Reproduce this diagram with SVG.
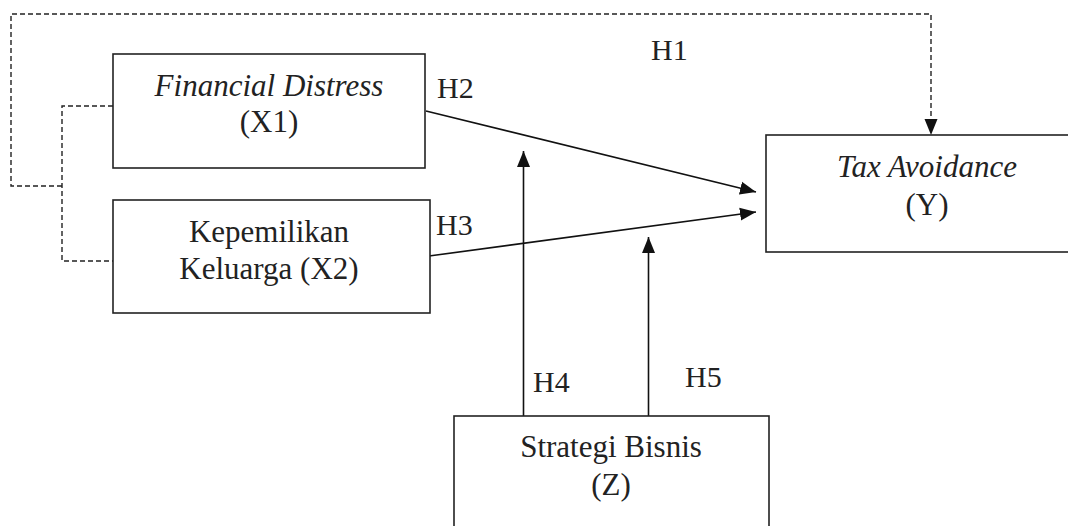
<svg xmlns="http://www.w3.org/2000/svg" width="1068" height="526" viewBox="0 0 1068 526">
<defs>
<marker id="arr" markerUnits="userSpaceOnUse" markerWidth="18" markerHeight="16" refX="16" refY="8" orient="auto">
<path d="M0,1.5 L16,8 L0,14.5 Z" fill="#111"/>
</marker>
<style>
.box{fill:#fff;stroke:#222;stroke-width:1.6}
text{font-family:'Liberation Serif','Times New Roman',serif;fill:#222}
.t{font-size:31px;text-anchor:middle}
.i{font-style:italic}
.lbl{font-size:30px}
.sol{fill:none;stroke:#111;stroke-width:1.6}
.dash{fill:none;stroke:#222;stroke-width:1.4;stroke-dasharray:5,3}
</style>
</defs>
<rect width="1068" height="526" fill="#fff"/>
<g id="connectors">
<path class="dash" d="M113,106 H62 V261 H113"/>
<path class="dash" d="M62,186 H11 V14 H931 V135" marker-end="url(#arr)"/>
<line class="sol" x1="426" y1="111" x2="756" y2="192" marker-end="url(#arr)"/>
<line class="sol" x1="429" y1="256" x2="756" y2="212" marker-end="url(#arr)"/>
<line class="sol" x1="523.5" y1="416" x2="523.5" y2="151" marker-end="url(#arr)"/>
<line class="sol" x1="648.5" y1="416" x2="648.5" y2="237" marker-end="url(#arr)"/>
<text class="lbl" x="651" y="60">H1</text>
<text class="lbl" x="437" y="98">H2</text>
<text class="lbl" x="436" y="235">H3</text>
<text class="lbl" x="533" y="392">H4</text>
<text class="lbl" x="685" y="387">H5</text>
</g>
<g id="x1">
<rect class="box" x="113" y="54" width="312" height="114"/>
<text class="t i" x="269" y="96">Financial Distress</text>
<text class="t" x="269" y="132">(X1)</text>
</g>
<g id="x2">
<rect class="box" x="113" y="200" width="317" height="113"/>
<text class="t" x="269" y="242">Kepemilikan</text>
<text class="t" x="269" y="279">Keluarga (X2)</text>
</g>
<g id="y">
<rect class="box" x="766" y="135" width="320" height="117"/>
<text class="t i" x="927" y="177">Tax Avoidance</text>
<text class="t" x="927" y="215">(Y)</text>
</g>
<g id="z">
<rect class="box" x="454" y="416" width="315" height="130"/>
<text class="t" x="611" y="457">Strategi Bisnis</text>
<text class="t" x="611" y="495">(Z)</text>
</g>
</svg>
